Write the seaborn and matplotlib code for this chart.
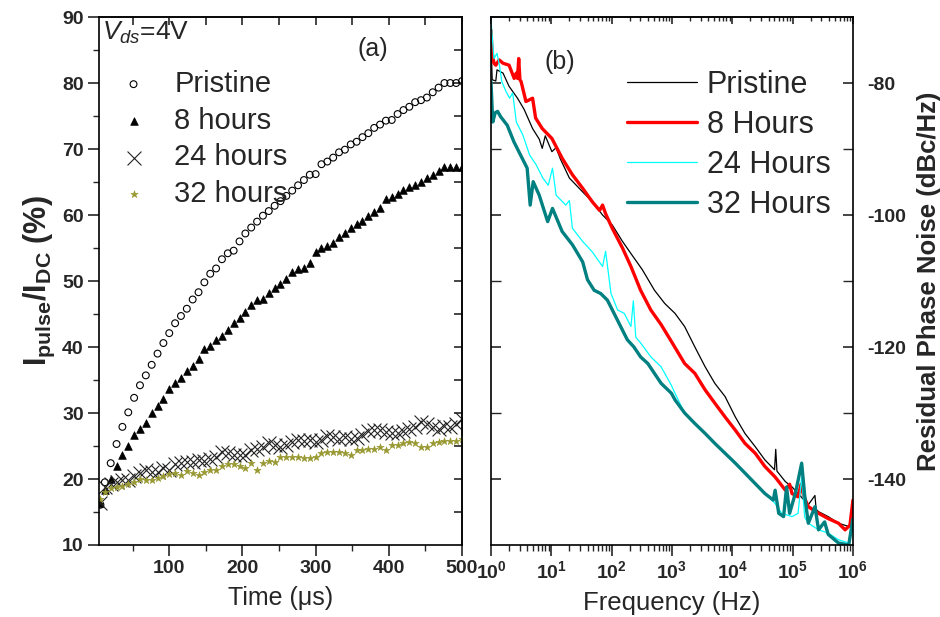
import numpy as np
import pandas as pd
import matplotlib
matplotlib.use("Agg")
import matplotlib.pyplot as plt
import seaborn as sns
from matplotlib.ticker import FixedLocator, NullFormatter, LogLocator, FixedFormatter

# ---------------- data: panel (a) ----------------
t_us = [6, 12, 20, 28, 36, 44, 52, 60, 68, 76, 84, 92, 100, 108, 116, 124, 132, 140,
        148, 156, 164, 172, 180, 188, 196, 204, 212, 220, 228, 236, 244, 252, 260, 268,
        276, 284, 292, 300, 308, 316, 324, 332, 340, 348, 356, 364, 372, 380, 388, 396,
        404, 412, 420, 428, 436, 444, 452, 460, 468, 476, 484, 492, 500]
pristine = [16.1, 19.5, 22.4, 25.3, 27.9, 30.1, 32.3, 34.2, 35.7, 37.3, 39.0, 40.6, 42.1,
            43.6, 44.7, 45.8, 47.2, 48.3, 49.8, 51.1, 51.9, 53.3, 54.2, 54.6, 56.0, 57.2,
            58.1, 59.0, 59.9, 60.6, 61.4, 62.1, 62.9, 63.7, 64.5, 65.3, 66.1, 66.2, 67.7,
            68.1, 68.7, 69.5, 69.9, 70.7, 71.1, 71.8, 72.4, 73.2, 73.7, 74.3, 74.4, 75.3,
            75.9, 76.4, 77.1, 77.4, 77.8, 78.6, 79.3, 80.0, 80.0, 80.0, 80.3]
hours8 = [16.3, 18.3, 20.0, 22.0, 23.6, 25.0, 26.7, 27.6, 28.5, 30.0, 31.1, 32.1, 33.6,
          34.5, 35.3, 36.4, 37.1, 38.2, 39.7, 40.1, 41.0, 41.6, 42.6, 43.6, 44.4, 45.3,
          46.4, 47.1, 47.2, 48.2, 48.9, 49.5, 50.3, 51.4, 51.8, 52.0, 52.8, 54.4, 55.0,
          55.3, 55.8, 56.6, 57.3, 58.0, 58.6, 59.1, 59.9, 60.5, 61.1, 62.4, 62.8, 63.2,
          63.8, 64.2, 64.6, 65.0, 65.6, 66.1, 66.6, 67.2, 67.3, 67.3, 67.3]
hours24 = [16.3, 18.8, 19.2, 19.5, 19.8, 19.8, 20.5, 20.9, 21.4, 21.1, 21.1, 21.6, 21.3,
           22.2, 22.5, 22.6, 22.6, 22.9, 22.8, 23.0, 23.4, 24.1, 24.0, 23.6, 23.7, 23.6,
           24.4, 24.6, 24.9, 25.4, 25.1, 24.9, 25.1, 25.6, 25.9, 25.8, 25.9, 25.6, 25.9,
           26.5, 26.4, 26.1, 26.3, 26.1, 26.2, 26.6, 27.3, 27.4, 27.5, 27.1, 26.9, 27.0,
           27.3, 27.6, 27.9, 28.6, 28.3, 27.9, 27.6, 28.1, 27.9, 28.4, 29.1]
hours32 = [17.0, 18.1, 18.6, 18.8, 19.0, 19.3, 19.5, 20.0, 19.8, 19.9, 20.2, 20.4, 20.7,
           20.9, 20.6, 21.2, 20.9, 20.6, 21.0, 21.4, 21.4, 21.9, 22.2, 22.2, 21.9, 21.7,
           22.4, 21.4, 22.4, 22.7, 22.6, 23.3, 23.4, 23.4, 23.3, 23.2, 23.2, 23.3, 23.9,
           24.1, 24.1, 24.1, 24.0, 23.6, 24.4, 24.4, 24.6, 24.6, 24.9, 24.4, 25.2, 25.1,
           25.4, 25.6, 25.5, 24.8, 24.9, 25.5, 25.6, 25.7, 25.8, 25.8, 26.0]

# ---------------- data: panel (b) (log10 of frequency, dBc/Hz) ----------------
pr_logf = [0.0, 0.02, 0.08, 0.1, 0.2, 0.3, 0.44, 0.55, 0.69, 0.8, 0.85, 0.9, 1.01, 1.08,
           1.15, 1.30, 1.52, 1.68, 1.85, 2.01, 2.18, 2.34, 2.51, 2.71, 2.88, 3.05, 3.21,
           3.38, 3.55, 3.71, 3.88, 4.05, 4.21, 4.38, 4.54, 4.70, 4.72, 4.74, 4.88, 4.99,
           5.09, 5.26, 5.37, 5.39, 5.43, 5.59, 5.76, 5.93, 6.0]
pr_db = [-73.0, -79.5, -79.7, -78.0, -78.5, -80.5, -82.3, -84.0, -86.9, -88.5, -89.9,
         -88.0, -90.4, -89.8, -91.5, -94.4, -96.5, -98.0, -100.0, -101.5, -104.0, -106.1,
         -108.3, -111.4, -113.4, -114.9, -116.9, -120.0, -123.0, -125.5, -127.5, -130.6,
         -133.1, -135.1, -137.1, -138.6, -135.5, -138.8, -140.4, -141.2, -142.2, -143.9,
         -142.5, -144.6, -144.95, -145.7, -146.7, -147.2, -146.0]

h8_logf = [0.0, 0.02, 0.05, 0.08, 0.136, 0.2, 0.3, 0.385, 0.42, 0.44, 0.46, 0.48, 0.5,
           0.58, 0.69, 0.74, 0.85, 1.01, 1.18, 1.35, 1.52, 1.68, 1.8, 1.85, 1.9, 2.01,
           2.18, 2.32, 2.48, 2.65, 2.82, 2.98, 3.21, 3.38, 3.55, 3.71, 3.88, 4.05, 4.21,
           4.38, 4.54, 4.71, 4.88, 4.95, 4.99, 5.09, 5.14, 5.18, 5.26, 5.43, 5.59, 5.76,
           5.87, 5.95, 6.0]
h8_db = [-72.0, -75.5, -77.0, -77.3, -76.5, -77.0, -77.3, -79.3, -78.5, -79.3, -76.3,
         -79.5, -79.8, -82.8, -82.3, -85.3, -86.9, -88.4, -91.4, -93.9, -95.95, -98.0,
         -99.3, -98.5, -99.8, -102.0, -105.0, -107.8, -111.4, -114.4, -116.6, -119.0,
         -122.5, -124.0, -126.5, -128.5, -130.6, -132.6, -134.6, -136.1, -138.1, -139.7,
         -141.7, -140.8, -142.2, -142.7, -140.8, -142.5, -144.2, -145.2, -146.0, -146.7,
         -147.7, -147.0, -143.2]

h24_logf = [0.0, 0.05, 0.1, 0.14, 0.18, 0.25, 0.31, 0.36, 0.42, 0.53, 0.64, 0.75, 0.86,
            0.95, 1.02, 1.08, 1.24, 1.30, 1.35, 1.52, 1.68, 1.85, 1.9, 1.99, 2.10, 2.21,
            2.32, 2.36, 2.40, 2.49, 2.65, 2.82, 2.99, 3.05, 3.21, 3.38, 3.55, 3.71, 3.88,
            4.05, 4.21, 4.38, 4.54, 4.71, 4.82, 4.99, 5.09, 5.15, 5.20, 5.26, 5.43, 5.59,
            5.76, 5.93, 6.0]
h24_db = [-70.5, -76.3, -75.5, -77.3, -79.8, -81.3, -82.3, -81.5, -85.9, -87.9, -90.9,
          -92.4, -94.4, -95.5, -92.9, -97.0, -98.5, -97.8, -102.0, -104.0, -105.6, -107.8,
          -105.5, -111.9, -114.4, -114.9, -116.9, -113.0, -118.5, -119.5, -121.5, -123.0,
          -125.8, -127.0, -130.0, -131.6, -133.1, -134.6, -136.1, -137.6, -139.1, -140.7,
          -142.2, -143.7, -145.2, -145.7, -145.2, -139.7, -145.8, -146.7, -147.7, -148.2,
          -149.2, -149.7, -147.0]

h32_logf = [0.0, 0.03, 0.07, 0.11, 0.16, 0.27, 0.38, 0.49, 0.6, 0.65, 0.7, 0.8, 0.94,
            1.02, 1.18, 1.35, 1.52, 1.60, 1.71, 1.82, 1.93, 2.04, 2.15, 2.26, 2.37, 2.48,
            2.60, 2.71, 2.82, 2.99, 3.05, 3.21, 3.38, 3.55, 3.71, 3.88, 4.05, 4.21, 4.38,
            4.54, 4.68, 4.71, 4.77, 4.85, 4.90, 4.95, 5.05, 5.15, 5.20, 5.26, 5.37, 5.43,
            5.53, 5.59, 5.76, 5.93, 6.0]
h32_db = [-79.8, -85.9, -84.5, -84.3, -85.1, -86.4, -88.9, -90.9, -92.9, -98.5, -94.95,
          -97.0, -101.0, -99.0, -102.5, -104.5, -107.1, -109.8, -111.4, -111.9, -112.9,
          -114.9, -116.9, -118.9, -120.0, -121.5, -122.5, -124.0, -125.5, -127.0, -128.0,
          -130.0, -131.6, -133.1, -134.6, -136.1, -137.6, -139.1, -140.7, -142.2, -143.2,
          -141.7, -145.2, -145.7, -141.2, -145.2, -142.0, -137.6, -142.5, -146.7, -144.2,
          -147.7, -146.5, -148.4, -149.7, -150.0, -146.0]

# ---------------- style ----------------
sns.set_style("ticks")
plt.rcParams.update({
    "font.family": ["Liberation Sans", "DejaVu Sans"],
    "mathtext.fontset": "custom",
    "mathtext.rm": "Liberation Sans",
    "mathtext.it": "Liberation Sans:italic",
    "mathtext.bf": "Liberation Sans:bold",
    "axes.unicode_minus": False,
    "axes.linewidth": 1.2,
    "xtick.major.width": 1.2,
    "ytick.major.width": 1.2,
    "xtick.minor.width": 1.0,
    "ytick.minor.width": 1.0,
})

fig = plt.figure(figsize=(9.4, 6.17), dpi=100)
ax1 = fig.add_axes([0.1053, 0.1167, 0.3862, 0.8557])
ax2 = fig.add_axes([0.5223, 0.1167, 0.3851, 0.8557])

# ---------------- panel (a) ----------------
sns.scatterplot(x=t_us, y=pristine, ax=ax1, marker="o", s=24, facecolor="none",
                edgecolor="black", linewidth=0.8, label="Pristine")
sns.scatterplot(x=t_us, y=hours8, ax=ax1, marker="^", s=30, color="black",
                edgecolor="black", linewidth=0.5, label="8 hours")
sns.scatterplot(x=t_us, y=hours24, ax=ax1, marker="x", s=100, color="#222222",
                linewidth=0.8, label="24 hours")
sns.scatterplot(x=t_us, y=hours32, ax=ax1, marker="*", s=30, color="#999933",
                edgecolor="#999933", linewidth=0.4, label="32 hours")

ax1.set_xlim(4, 500)
ax1.set_ylim(10, 90)
ax1.xaxis.set_major_locator(FixedLocator([100, 200, 300, 400, 500]))
ax1.xaxis.set_minor_locator(FixedLocator([50, 150, 250, 350, 450]))
ax1.yaxis.set_major_locator(FixedLocator(list(range(10, 91, 10))))
ax1.yaxis.set_minor_locator(FixedLocator(list(range(15, 90, 10))))
ax1.tick_params(which="both", direction="out", top=False, right=False)
ax1.tick_params(which="major", length=8, pad=3, labelsize=14)
ax1.tick_params(which="minor", length=4)
for lab in ax1.get_xticklabels() + ax1.get_yticklabels():
    lab.set_fontweight("bold")

sx1 = ax1.secondary_xaxis("top")
sx1.xaxis.set_major_locator(FixedLocator(list(range(50, 501, 50))))
sx1.tick_params(direction="in", length=6, labeltop=False)
sy1 = ax1.secondary_yaxis("right")
sy1.yaxis.set_major_locator(FixedLocator(list(range(15, 90, 5))))
sy1.tick_params(direction="in", length=6, labelright=False)

ax1.set_xlabel("Time (μs)", fontsize=18, labelpad=6)
ax1.set_ylabel(r"$\mathbf{I_{pulse}/I_{DC}}$ (%)", fontsize=22, fontweight="bold",
               labelpad=4)
ax1.text(0.008, 0.995, r"$V_{ds}$=4V", transform=ax1.transAxes, fontsize=19,
         va="top", ha="left")
ax1.text(0.755, 0.94, "(a)", transform=ax1.transAxes, fontsize=18,
         va="center", ha="center")
leg1 = ax1.legend(loc="upper left", bbox_to_anchor=(0.055, 0.90), frameon=False,
                  fontsize=21, handlelength=1.0, handletextpad=0.9,
                  labelspacing=0.3, borderpad=0, borderaxespad=0, markerscale=1.0)

# ---------------- panel (b) ----------------
series_b = [
    (pr_logf, pr_db, "Pristine", "black", 0.9),
    (h8_logf, h8_db, "8 Hours", "#ff0000", 2.4),
    (h24_logf, h24_db, "24 Hours", "#00ffff", 0.9),
    (h32_logf, h32_db, "32 Hours", "#008080", 2.4),
]
for lf, db, name, col, lw in series_b:
    freq = np.power(10.0, np.array(lf))
    sns.lineplot(x=freq, y=db, ax=ax2, color=col, linewidth=lw, label=name,
                 estimator=None, sort=False)

ax2.set_xscale("log")
ax2.set_xlim(1, 1e6)
ax2.set_ylim(-150, -70)
dec = [1, 10, 100, 1e3, 1e4, 1e5, 1e6]
ax2.xaxis.set_major_locator(FixedLocator(dec))
ax2.xaxis.set_major_formatter(FixedFormatter(
    [r"$\mathbf{10^{%d}}$" % i for i in range(7)]))
ax2.xaxis.set_minor_locator(LogLocator(base=10, subs=np.arange(2, 10), numticks=20))
ax2.xaxis.set_minor_formatter(NullFormatter())
ax2.yaxis.set_major_locator(FixedLocator([-140, -120, -100, -80]))
ax2.yaxis.set_major_formatter(FixedFormatter(["-140", "-120", "-100", "-80"]))
ax2.yaxis.set_minor_locator(FixedLocator([-130, -110, -90]))
ax2.tick_params(axis="x", which="both", direction="out", top=False, bottom=True)
ax2.tick_params(axis="x", which="major", length=8, pad=3, labelsize=14)
ax2.tick_params(axis="x", which="minor", length=4)
ax2.tick_params(axis="y", which="both", direction="in", left=True, right=True,
                labelleft=False, labelright=True)
ax2.tick_params(axis="y", which="major", length=7, pad=10, labelsize=14)
ax2.tick_params(axis="y", which="minor", length=7)
for lab in ax2.get_yticklabels():
    lab.set_fontweight("bold")
sx2 = ax2.secondary_xaxis("top")
sx2.xaxis.set_major_locator(FixedLocator(dec))
sx2.xaxis.set_minor_locator(LogLocator(base=10, subs=np.arange(2, 10), numticks=20))
sx2.tick_params(which="both", direction="in", labeltop=False)
sx2.tick_params(which="major", length=5)
sx2.tick_params(which="minor", length=3)
sx2.xaxis.set_major_formatter(NullFormatter())
sx2.xaxis.set_minor_formatter(NullFormatter())

ax2.yaxis.set_label_position("right")
ax2.set_ylabel("Residual Phase Noise (dBc/Hz)", fontsize=18.5, fontweight="bold",
               rotation=90, labelpad=8)
ax2.set_xlabel("Frequency (Hz)", fontsize=18.5, labelpad=6)
ax2.text(0.19, 0.915, "(b)", transform=ax2.transAxes, fontsize=18,
         va="center", ha="center")
leg2 = ax2.legend(loc="upper left", bbox_to_anchor=(0.376, 0.90), frameon=False,
                  fontsize=22, handlelength=2.28, handletextpad=0.33,
                  labelspacing=0.33, borderpad=0, borderaxespad=0)

for ax in (ax1, ax2):
    for sp in ax.spines.values():
        sp.set_visible(True)
        sp.set_color("black")
        sp.set_linewidth(1.2)
    ax.grid(False)

fig.savefig("out.png", dpi=100)
